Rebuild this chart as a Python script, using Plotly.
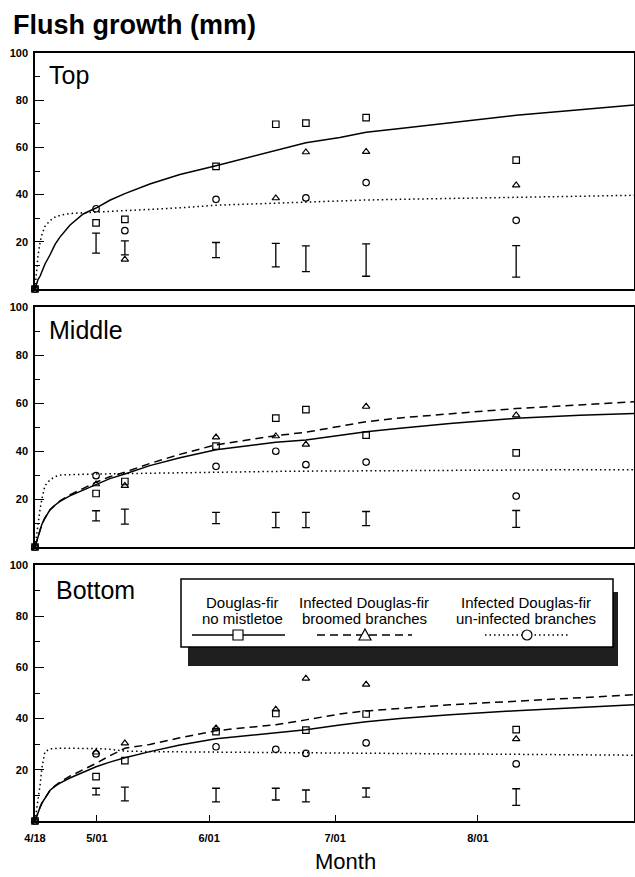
import plotly.graph_objects as go

W, H = 635, 877

# ---------------- data ----------------
# x positions are "days after 4/18"
sample_days = [0, 14.2, 20.9, 42.1, 56.0, 63.0, 77.0, 111.9]
eb_days = [14.2, 20.9, 42.1, 56.0, 63.0, 77.0, 111.9]
curve_days = [0, 0.7, 1.2, 1.6, 2.3, 3.5, 4.7, 5.8, 8.1, 11.2, 14.2, 17.4, 20.9,
              26.7, 33.7, 42.1, 50.0, 56.0, 63.0, 70.9, 77.0, 84.9, 96.5, 111.9,
              126.7, 139.3]

tick_days = [0, 14.4, 40.5, 69.8, 103.0]
tick_labels = ["4/18", "5/01", "6/01", "7/01", "8/01"]
y_ticks = [20, 40, 60, 80, 100]
y_minor_ticks = [10, 30, 50, 70, 90]

panel_names = ["Top", "Middle", "Bottom"]
legend_line1 = ["Douglas-fir", "Infected Douglas-fir", "Infected Douglas-fir"]
legend_line2 = ["no mistletoe", "broomed branches", "un-infected branches"]

# Top crown
top_sq = [0, 28, 29.5, 52, 69.8, 70.3, 72.6, 54.6]
top_tri = [0, None, 12.5, None, 38.5, 58, 58.2, 44]
top_circ = [0, 34, 24.7, 38, None, 38.6, 45.1, 29.1]
top_eb_hi = [23.7, 20.4, 19.7, 19.3, 18.3, 19.1, 18.4]
top_eb_lo = [15.2, 14.5, 13.3, 9.4, 7.4, 5.4, 5.0]
top_fit_solid = [0, 4, 5.5, 7.5, 10.5, 14.5, 19, 22, 27, 31.8, 34.3, 37.6, 40.4,
                 44.5, 48.5, 52.2, 56, 58.8, 62, 64.2, 66.4, 68, 70.5, 73.6, 76, 78]
top_fit_dashed = None
top_fit_dotted = [0, 14, 20, 23, 26.5, 29, 30.5, 31.2, 32, 32.3, 32.4, 32.7, 33,
                  33.6, 34.4, 35.5, 36, 36.4, 37, 37.4, 37.7, 38, 38.4, 38.9, 39.3, 39.7]

# Middle crown
mid_sq = [0, 22.3, 27.3, 42, 53.7, 57.2, 46.6, 39.2]
mid_tri = [0, 26.2, 25.5, 45.7, 46.2, 42.7, 58.5, 54.9]
mid_circ = [0, 29.7, None, 33.6, 39.9, 34.3, 35.4, 21.2]
mid_eb_hi = [15.1, 15.8, 14.4, 14.4, 14.4, 14.8, 15.2]
mid_eb_lo = [10.9, 9.5, 9.7, 8.1, 8.1, 8.9, 8.2]
mid_fit_solid = [0, 4.5, 7.5, 9.5, 12, 15.5, 17.5, 19, 21.3, 23.8, 26.2, 28.5, 30.4,
                 33.9, 37.2, 40.5, 42.3, 43.6, 44.6, 46.5, 48, 49.5, 51.5, 53.6, 54.9, 55.6]
mid_fit_dashed = [0, 4.5, 7.5, 9.5, 12, 15.5, 17.5, 19.2, 21.7, 24.5, 27, 29.3, 31.2,
                  34.8, 38.6, 42.6, 44.9, 46.4, 47.8, 50.3, 52.2, 53.8, 55.6, 57.7, 59.2, 60.5]
mid_fit_dotted = [0, 10.5, 16, 20, 25.5, 28, 29.3, 30, 30.2, 30.3, 30.4, 30.5, 30.6,
                  30.8, 31, 31.2, 31.4, 31.5, 31.6, 31.7, 31.8, 31.9, 32, 32.1, 32.2, 32.2]

# Bottom crown
bot_sq = [0, 17.3, 23.6, 34.9, 42, 35.5, 41.8, 35.7]
bot_tri = [0, 26.8, 30.4, 36.2, 43.6, 55.7, 53.3, 32]
bot_circ = [0, 26.2, None, 29, 28, 26.4, 30.5, 22.3]
bot_eb_hi = [12.8, 13.2, 12.8, 12.8, 12.1, 12.9, 12.6]
bot_eb_lo = [10.2, 7.9, 7.5, 8.2, 7.5, 9.3, 6.1]
bot_fit_solid = [0, 3.5, 5.5, 7, 8.9, 12, 13.6, 14.8, 16.8, 19, 21.2, 23, 24.7,
                 27.1, 29.7, 32.1, 33.5, 34.4, 35.6, 37.5, 38.8, 40, 41.5, 43.1, 44.3, 45.4]
bot_fit_dashed = [0, 3.5, 5.5, 7, 9, 12, 13.8, 15.2, 17.5, 20, 22.5, 25.5, 28.4,
                  29.9, 32.5, 35.3, 36.5, 37.6, 39.5, 41.8, 43, 44, 45.4, 46.8, 48.1, 49.3]
bot_fit_dotted = [0, 8, 14.3, 20.7, 27, 28.2, 28.4, 28.4, 28.4, 28.4, 28.3, 28, 27.3,
                  27.1, 27, 26.9, 26.8, 26.7, 26.6, 26.6, 26.5, 26.4, 26.3, 26.1, 25.9, 25.7]

# ---------------- layout helpers ----------------
def fx(p):
    return p / W

def fy(p):
    return 1 - p / H

FONT = "Liberation Sans, Arial, sans-serif"
panel_px = [(53, 289), (307, 547), (565, 821)]  # top/bottom pixel rows of each frame
label_px = [(47, 75), (47, 330), (54, 590)]

panels = [
    (top_sq, top_tri, top_circ, top_eb_hi, top_eb_lo, top_fit_solid, top_fit_dashed, top_fit_dotted),
    (mid_sq, mid_tri, mid_circ, mid_eb_hi, mid_eb_lo, mid_fit_solid, mid_fit_dashed, mid_fit_dotted),
    (bot_sq, bot_tri, bot_circ, bot_eb_hi, bot_eb_lo, bot_fit_solid, bot_fit_dashed, bot_fit_dotted),
]

fig = go.Figure()
layout = dict(
    width=W, height=H,
    margin=dict(l=0, r=0, t=0, b=0),
    paper_bgcolor="white", plot_bgcolor="rgba(0,0,0,0)",
    showlegend=False,
    font=dict(family=FONT, color="black"),
)

LW = 1.5
for i, (sq, tri, circ, hi, lo, fs, fd, fdot) in enumerate(panels):
    n = i + 1
    xa = "x" if n == 1 else f"x{n}"
    ya = "y" if n == 1 else f"y{n}"
    # fitted curves
    fig.add_trace(go.Scatter(x=curve_days, y=fs, mode="lines", xaxis=xa, yaxis=ya,
                             line=dict(color="black", width=LW)))
    if fd is not None:
        fig.add_trace(go.Scatter(x=curve_days, y=fd, mode="lines", xaxis=xa, yaxis=ya,
                                 line=dict(color="black", width=LW, dash="8px,5px")))
    fig.add_trace(go.Scatter(x=curve_days, y=fdot, mode="lines", xaxis=xa, yaxis=ya,
                             line=dict(color="black", width=LW, dash="1.5px,3px")))
    # observed means
    for vals, sym in ((sq, "square-open"), (tri, "triangle-up-open"), (circ, "circle-open")):
        fig.add_trace(go.Scatter(x=sample_days, y=vals, mode="markers", xaxis=xa, yaxis=ya,
                                 cliponaxis=False,
                                 marker=dict(symbol=sym, size=6.5, color="black",
                                             line=dict(width=1.2, color="black"))))
    # error bars (I-beams)
    fig.add_trace(go.Scatter(
        x=eb_days, y=lo, mode="markers", xaxis=xa, yaxis=ya,
        marker=dict(size=1, color="rgba(0,0,0,0)"),
        error_y=dict(type="data", symmetric=False,
                     array=[h - l for h, l in zip(hi, lo)],
                     arrayminus=[0] * len(lo),
                     color="black", thickness=1.3, width=4)))

    top_px, bot_px = panel_px[i]
    xkey = "xaxis" if n == 1 else f"xaxis{n}"
    ykey = "yaxis" if n == 1 else f"yaxis{n}"
    xaxis = dict(domain=[fx(35), fx(634)], range=[0, 139.3], anchor=ya,
                 showline=True, mirror=True, linecolor="black", linewidth=LW,
                 showgrid=False, zeroline=False, automargin=False)
    if n == 3:
        xaxis.update(tickmode="array", tickvals=tick_days, ticktext=tick_labels,
                     ticks="inside", ticklen=6, tickcolor="black", tickwidth=1.2,
                     ticklabelstandoff=6,
                     tickfont=dict(size=11, family=FONT, weight="bold", color="black"))
    else:
        xaxis.update(showticklabels=False, ticks="")
    yaxis = dict(domain=[fy(bot_px), fy(top_px)], range=[0, 100], anchor=xa,
                 showline=True, mirror=True, linecolor="black", linewidth=LW,
                 showgrid=False, zeroline=False, automargin=False,
                 tickmode="array", tickvals=y_ticks, ticks="inside", ticklen=9,
                 tickcolor="black", tickwidth=1.2, ticklabelstandoff=3,
                 minor=dict(tickmode="array", tickvals=y_minor_ticks, ticks="inside",
                            ticklen=5, tickcolor="black", tickwidth=1),
                 tickfont=dict(size=11, family=FONT, weight="bold", color="black"))
    layout[xkey] = xaxis
    layout[ykey] = yaxis

annotations = []
shapes = []

# title
annotations.append(dict(text="Flush growth (mm)", x=fx(11), y=fy(25), xref="paper", yref="paper",
                        xanchor="left", yanchor="middle", showarrow=False,
                        font=dict(size=27, family=FONT, weight="bold", color="black")))
# panel labels
for name, (lx, ly) in zip(panel_names, label_px):
    annotations.append(dict(text=name, x=fx(lx), y=fy(ly), xref="paper", yref="paper",
                            xanchor="left", yanchor="middle", showarrow=False,
                            font=dict(size=25, family=FONT, color="black")))
# x-axis title
annotations.append(dict(text="Month", x=fx(345), y=fy(861), xref="paper", yref="paper",
                        xanchor="center", yanchor="middle", showarrow=False,
                        font=dict(size=22, family=FONT, color="black")))

# custom legend: shadow, box, glyphs, text
shapes.append(dict(type="rect", xref="paper", yref="paper", x0=fx(188), x1=fx(618),
                   y0=fy(666), y1=fy(592), fillcolor="#1e1e1e", line=dict(width=0), layer="above"))
shapes.append(dict(type="rect", xref="paper", yref="paper", x0=fx(181), x1=fx(613),
                   y0=fy(647), y1=fy(579), fillcolor="white",
                   line=dict(width=1.5, color="black"), layer="above"))
gy = 635
shapes.append(dict(type="line", xref="paper", yref="paper", x0=fx(192), x1=fx(285),
                   y0=fy(gy), y1=fy(gy), line=dict(width=1.5, color="black"), layer="above"))
shapes.append(dict(type="rect", xref="paper", yref="paper", x0=fx(233), x1=fx(243),
                   y0=fy(gy + 5), y1=fy(gy - 5), fillcolor="white",
                   line=dict(width=1.2, color="black"), layer="above"))
shapes.append(dict(type="line", xref="paper", yref="paper", x0=fx(317), x1=fx(412),
                   y0=fy(gy), y1=fy(gy), line=dict(width=1.5, color="black", dash="8px,5px"),
                   layer="above"))
shapes.append(dict(type="path", xref="paper", yref="paper",
                   path=f"M {fx(359)},{fy(gy + 5)} L {fx(371)},{fy(gy + 5)} L {fx(365)},{fy(gy - 6)} Z",
                   fillcolor="white", line=dict(width=1.2, color="black"), layer="above"))
shapes.append(dict(type="line", xref="paper", yref="paper", x0=fx(485), x1=fx(570),
                   y0=fy(gy), y1=fy(gy), line=dict(width=1.5, color="black", dash="1.5px,3px"),
                   layer="above"))
shapes.append(dict(type="circle", xref="paper", yref="paper", x0=fx(522), x1=fx(532),
                   y0=fy(gy + 5), y1=fy(gy - 5), fillcolor="white",
                   line=dict(width=1.2, color="black"), layer="above"))

col_x = [242, 364, 526]
for cx, t1, t2 in zip(col_x, legend_line1, legend_line2):
    annotations.append(dict(text=t1, x=fx(cx), y=fy(602), xref="paper", yref="paper",
                            xanchor="center", yanchor="middle", showarrow=False,
                            font=dict(size=15, family=FONT, color="black")))
    annotations.append(dict(text=t2, x=fx(cx), y=fy(618), xref="paper", yref="paper",
                            xanchor="center", yanchor="middle", showarrow=False,
                            font=dict(size=15, family=FONT, color="black")))

layout["annotations"] = annotations
layout["shapes"] = shapes
fig.update_layout(**layout)

# remove the default page margin so the 635x877 figure fills the window exactly
fig.write_html("out.html",
               config={"displayModeBar": False},
               post_script="document.body.style.margin='0';document.body.style.overflow='hidden';")
